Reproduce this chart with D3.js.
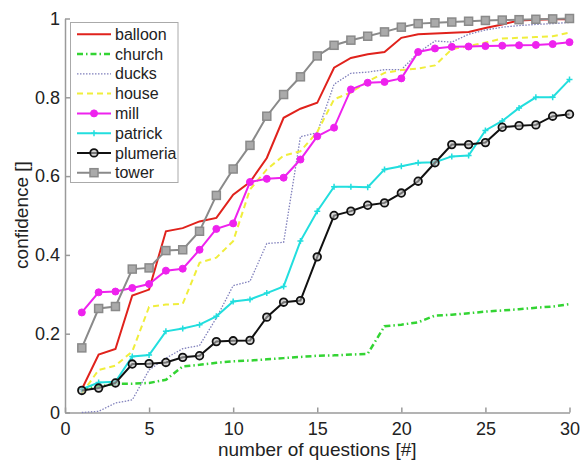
<!DOCTYPE html>
<html>
<head>
    <title>Confidence vs number of questions - D3.js</title>
    <script src="https://d3js.org/d3.v7.min.js"></script>
    <style>
        body { margin: 0; background: #fff; }
        text { font-family: Arial, "Liberation Sans", sans-serif; fill: #222; }
        .axis path, .axis line { fill: none; stroke: #9a9a9a; stroke-width: 1.5; }
        .axis text { font-size: 18px; fill: #222; }
        .axis-title { font-size: 19px; text-anchor: middle; }
        .legend text { font-size: 16px; }
    </style>
</head>
<body>
<div id="chart"></div>
<script>
    // questions asked (x axis)
    const questions = d3.range(1, 31);

    // confidence per series
    const balloon  = [0.059,0.147,0.161,0.297,0.312,0.460,0.468,0.485,0.494,0.553,0.585,0.646,0.748,0.771,0.786,0.875,0.900,0.909,0.915,0.951,0.960,0.962,0.964,0.966,0.976,0.985,0.995,0.997,0.998,0.998];
    const church   = [0.059,0.066,0.073,0.073,0.075,0.083,0.117,0.121,0.126,0.130,0.132,0.135,0.138,0.141,0.144,0.145,0.147,0.149,0.219,0.223,0.229,0.246,0.248,0.252,0.256,0.259,0.262,0.266,0.269,0.275];
    const ducks    = [0.000,0.003,0.024,0.032,0.108,0.138,0.162,0.170,0.240,0.322,0.333,0.429,0.432,0.700,0.710,0.833,0.861,0.864,0.870,0.870,0.913,0.943,0.940,0.960,0.971,0.978,0.982,0.985,0.987,0.990];
    const house    = [0.048,0.108,0.119,0.155,0.268,0.274,0.276,0.380,0.393,0.435,0.566,0.617,0.652,0.663,0.712,0.795,0.812,0.840,0.862,0.869,0.873,0.881,0.922,0.930,0.939,0.949,0.951,0.953,0.955,0.964];
    const mill     = [0.254,0.305,0.307,0.316,0.326,0.360,0.365,0.413,0.466,0.480,0.585,0.593,0.596,0.642,0.701,0.723,0.820,0.837,0.839,0.848,0.915,0.924,0.928,0.929,0.930,0.931,0.932,0.933,0.935,0.940];
    const patrick  = [0.059,0.076,0.078,0.142,0.146,0.206,0.213,0.223,0.244,0.282,0.287,0.303,0.320,0.435,0.511,0.573,0.573,0.572,0.617,0.625,0.634,0.635,0.650,0.652,0.716,0.740,0.773,0.800,0.800,0.845];
    const plumeria = [0.056,0.062,0.075,0.123,0.124,0.127,0.140,0.144,0.180,0.182,0.183,0.242,0.280,0.284,0.395,0.500,0.511,0.526,0.532,0.557,0.587,0.634,0.680,0.680,0.685,0.724,0.728,0.730,0.752,0.757];
    const tower    = [0.164,0.264,0.269,0.364,0.367,0.411,0.413,0.460,0.551,0.618,0.678,0.752,0.807,0.852,0.905,0.932,0.945,0.955,0.966,0.978,0.987,0.989,0.991,0.993,0.995,0.996,0.997,0.998,0.999,1.000];

    const seriesNames = ["balloon", "church", "ducks", "house", "mill", "patrick", "plumeria", "tower"];
    const seriesValues = [balloon, church, ducks, house, mill, patrick, plumeria, tower];

    const xTicks = [0, 5, 10, 15, 20, 25, 30];
    const yTicks = [0, 0.2, 0.4, 0.6, 0.8, 1];

    // line style for each series (matlab-ish)
    const styles = {
        balloon:  { color: "#e0221c", width: 2,   dash: null,        marker: null },
        church:   { color: "#33d433", width: 2.5, dash: "6,3,1.5,3", marker: null },
        ducks:    { color: "#8080bc", width: 1.3, dash: "1.5,1.5",   marker: null },
        house:    { color: "#f0ee3c", width: 2,   dash: "6,4",       marker: null },
        mill:     { color: "#ee22ee", width: 2,   dash: null,        marker: "dot" },
        patrick:  { color: "#22dede", width: 2,   dash: null,        marker: "plus" },
        plumeria: { color: "#111111", width: 2,   dash: null,        marker: "circle" },
        tower:    { color: "#8a8a8a", width: 2,   dash: null,        marker: "square" }
    };

    const width = 582, height = 462;

    const svg = d3.select("#chart").append("svg")
        .attr("width", width)
        .attr("height", height);

    const x = d3.scaleLinear().domain([0, 30]).range([65, 569.5]);
    const y = d3.scaleLinear().domain([0, 1]).range([412.5, 18.5]);

    // axes (ticks inward, like matlab)
    svg.append("g")
        .attr("class", "axis")
        .attr("transform", `translate(0,${y(0)})`)
        .call(d3.axisBottom(x).tickValues(xTicks).tickSizeInner(-5).tickSizeOuter(0).tickPadding(10));

    svg.append("g")
        .attr("class", "axis")
        .attr("transform", `translate(${x(0)},0)`)
        .call(d3.axisLeft(y).tickValues(yTicks).tickFormat(d => d === 0 || d === 1 ? d : d.toFixed(1))
            .tickSizeInner(-5).tickSizeOuter(0).tickPadding(5));

    svg.append("text")
        .attr("class", "axis-title")
        .attr("x", (x(0) + x(30)) / 2)
        .attr("y", 456)
        .text("number of questions [#]");

    svg.append("text")
        .attr("class", "axis-title")
        .attr("transform", "translate(28,215) rotate(-90)")
        .text("confidence []");

    function drawMarker(g, kind, cx, cy, color) {
        if (kind === "dot") {
            g.append("circle").attr("cx", cx).attr("cy", cy).attr("r", 3.5)
                .attr("fill", color).attr("stroke", color);
        } else if (kind === "circle") {
            g.append("circle").attr("cx", cx).attr("cy", cy).attr("r", 3.8)
                .attr("fill", "#bbb").attr("fill-opacity", 0.6).attr("stroke", color).attr("stroke-width", 1.8);
        } else if (kind === "square") {
            g.append("rect").attr("x", cx - 4).attr("y", cy - 4).attr("width", 8).attr("height", 8)
                .attr("fill", "#aaa").attr("stroke", color).attr("stroke-width", 1.5);
        } else if (kind === "plus") {
            g.append("path").attr("d", `M${cx - 3},${cy}H${cx + 3}M${cx},${cy - 3}V${cy + 3}`)
                .attr("stroke", color).attr("stroke-width", 1.5);
        }
    }

    const line = d3.line()
        .x((d, i) => x(questions[i]))
        .y(d => y(d));

    // the curves
    seriesNames.forEach((name, k) => {
        const st = styles[name];
        const g = svg.append("g");
        g.append("path")
            .datum(seriesValues[k])
            .attr("d", line)
            .attr("fill", "none")
            .attr("stroke", st.color)
            .attr("stroke-width", st.width)
            .attr("stroke-dasharray", st.dash);
        if (st.marker) {
            seriesValues[k].forEach((v, i) => drawMarker(g, st.marker, x(questions[i]), y(v), st.color));
        }
    });

    // legend
    const legend = svg.append("g").attr("class", "legend");
    legend.append("rect")
        .attr("x", 70.5).attr("y", 22.5)
        .attr("width", 107.5).attr("height", 160)
        .attr("fill", "#fff").attr("stroke", "#aaa").attr("stroke-width", 1);

    seriesNames.forEach((name, i) => {
        const st = styles[name];
        const ly = 34.3 + i * 19.77;
        const g = legend.append("g");
        g.append("line")
            .attr("x1", 77).attr("x2", 111).attr("y1", ly).attr("y2", ly)
            .attr("stroke", st.color).attr("stroke-width", st.width)
            .attr("stroke-dasharray", st.dash);
        if (st.marker) drawMarker(g, st.marker, 94, ly, st.color);
        g.append("text")
            .attr("x", 115).attr("y", ly).attr("dy", "0.35em")
            .text(name);
    });
</script>
</body>
</html>
